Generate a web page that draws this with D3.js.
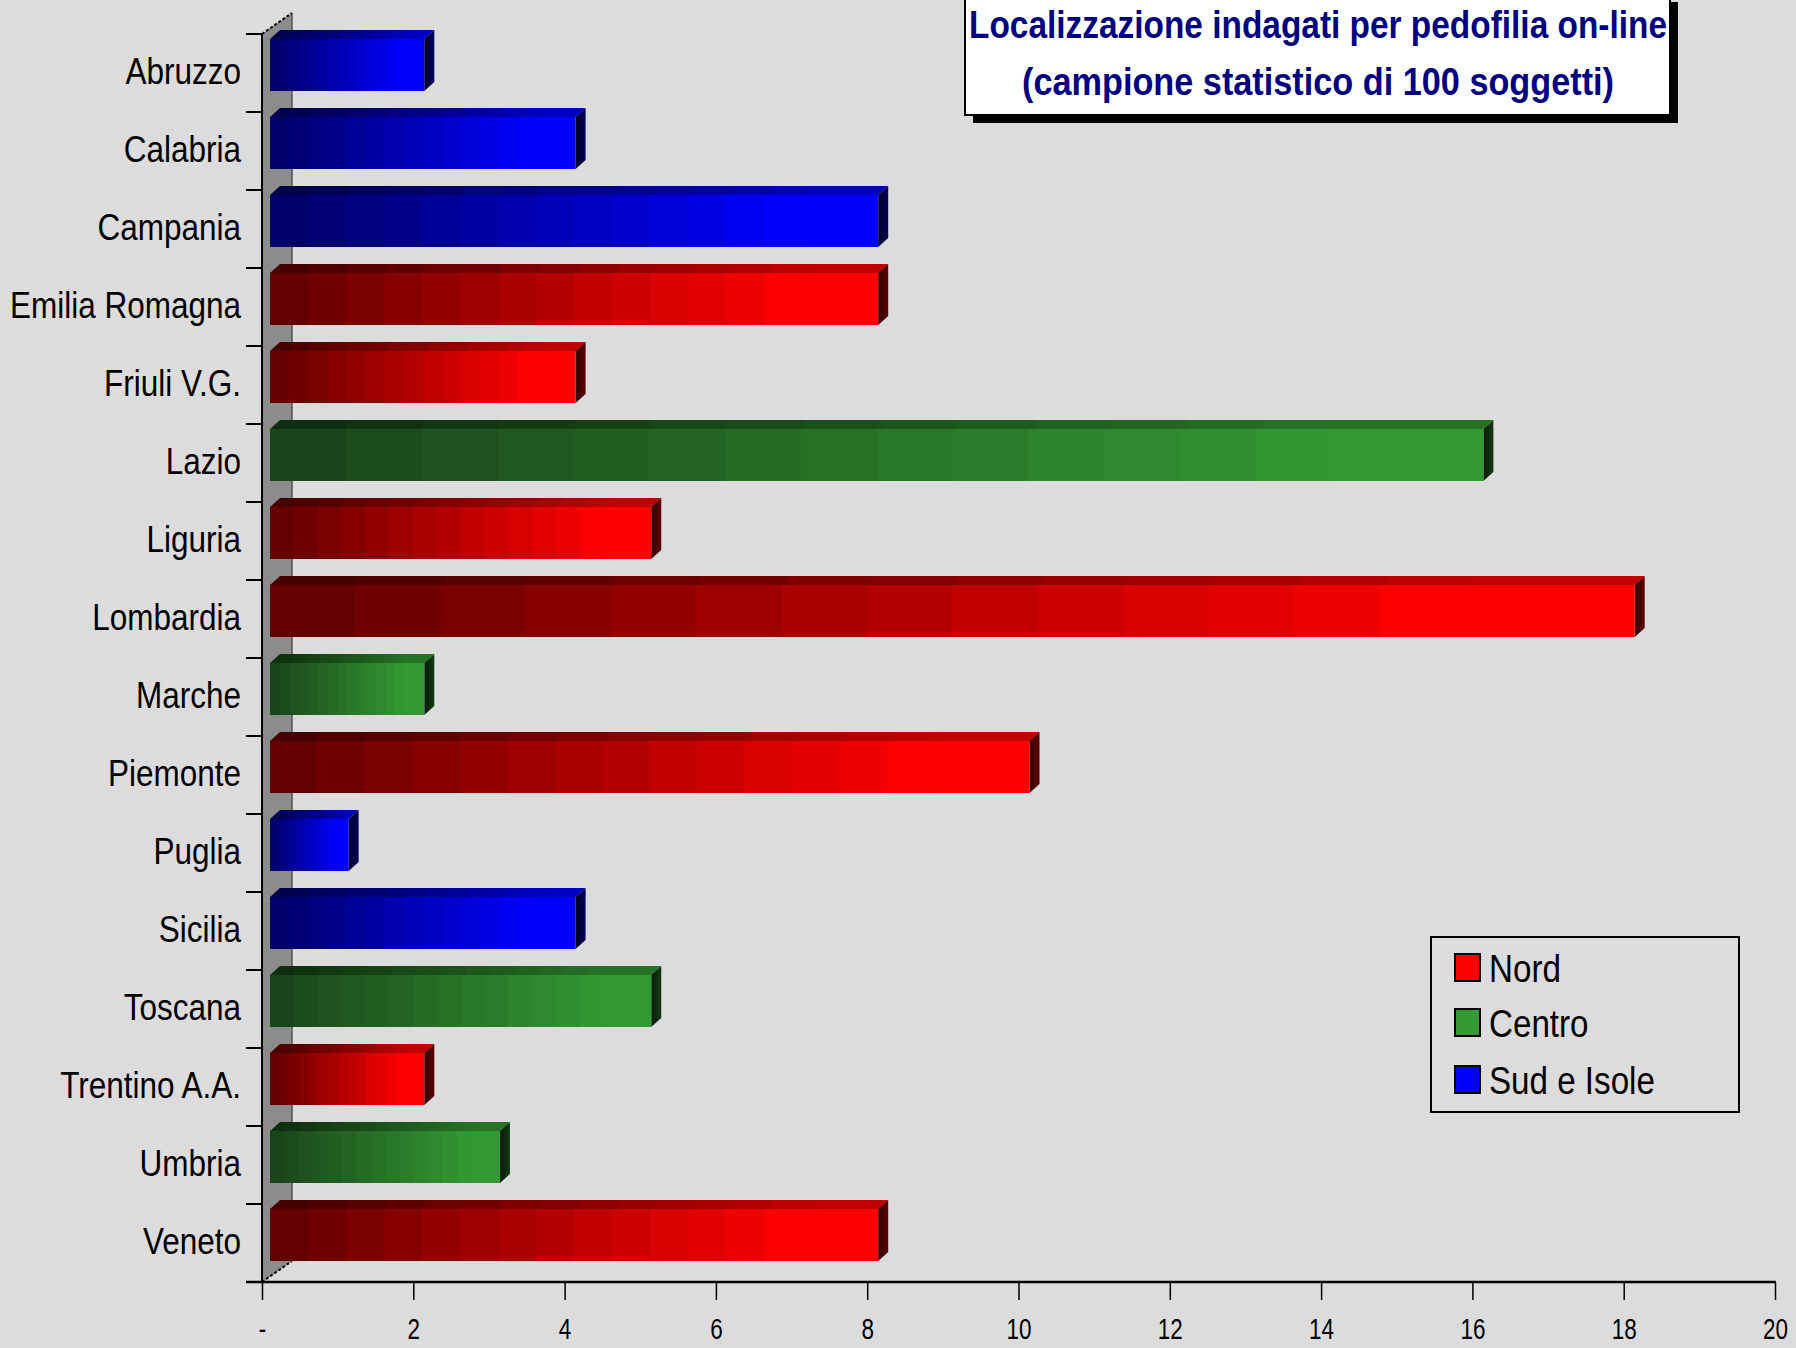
<!DOCTYPE html>
<html>
<head>
<meta charset="utf-8">
<script src="https://cdn.jsdelivr.net/npm/d3@7"></script>
<style>
  html, body { margin: 0; padding: 0; background: #dcdcdc; }
  svg { display: block; }
  text { font-family: 'Liberation Sans', Arial, sans-serif; }
</style>
</head>
<body>
<script>
// ---- data ----
const categories = ["Abruzzo","Calabria","Campania","Emilia Romagna","Friuli V.G.","Lazio","Liguria","Lombardia","Marche","Piemonte","Puglia","Sicilia","Toscana","Trentino A.A.","Umbria","Veneto"];
const values = [2,4,8,8,4,16,5,18,2,10,1,4,5,2,3,8];
const regions = ["Sud e Isole","Sud e Isole","Sud e Isole","Nord","Nord","Centro","Nord","Nord","Centro","Nord","Sud e Isole","Sud e Isole","Centro","Nord","Centro","Nord"];
const legendItems = ["Nord","Centro","Sud e Isole"];
const xTicks = [0,2,4,6,8,10,12,14,16,18,20];
const titleLines = ["Localizzazione indagati per pedofilia on-line","(campione statistico di 100 soggetti)"];

// colour ramps per region
const palette = {
  "Nord":        {legend:"#ff0000", f0:"#640000", f1:"#ff0000", t0:"#450000", t1:"#c00000", s0:"#300000", s1:"#600000"},
  "Centro":      {legend:"#339933", f0:"#1a451a", f1:"#339933", t0:"#0f2d0f", t1:"#267326", s0:"#081a08", s1:"#143a14"},
  "Sud e Isole": {legend:"#0000ff", f0:"#00006a", f1:"#0000ff", t0:"#00004a", t1:"#0000c0", s0:"#000020", s1:"#000060"}
};

const W = 1796, H = 1348;
const svg = d3.select("body").append("svg").attr("width", W).attr("height", H);
svg.append("rect").attr("width", W).attr("height", H).attr("fill", "#dcdcdc");

const x = d3.scaleLinear().domain([0, 20]).range([262, 1775]);
const y = d3.scaleBand().domain(categories).range([34, 1282]).padding(0);

// helper: horizontal squeeze factor so that a sample string has the target width
function squeeze(sample, size, weight, target) {
  const t = svg.append("text").attr("font-size", size).attr("font-weight", weight).text(sample);
  const w = t.node().getComputedTextLength();
  t.remove();
  return target / w;
}

// stepped gradients
const defs = svg.append("defs");
function stepped(id, c0, c1, n) {
  const g = defs.append("linearGradient").attr("id", id).attr("x1", 0).attr("x2", 1).attr("y1", 0).attr("y2", 0);
  const interp = d3.interpolateRgb(c0, c1);
  for (let i = 0; i < n; i++) {
    const t = Math.min(1, i / (n - 1) * 1.12);
    const col = interp(t);
    g.append("stop").attr("offset", i / n).attr("stop-color", col);
    g.append("stop").attr("offset", (i + 1) / n).attr("stop-color", col);
  }
}
Object.entries(palette).forEach(([k, p], i) => {
  stepped("front" + i, p.f0, p.f1, 16);
  stepped("top" + i, p.t0, p.t1, 16);
  const s = defs.append("linearGradient").attr("id", "side" + i).attr("x1", 0).attr("x2", 1);
  s.append("stop").attr("offset", 0).attr("stop-color", p.s0);
  s.append("stop").attr("offset", 1).attr("stop-color", p.s1);
});
const regIdx = r => Object.keys(palette).indexOf(r);

// back wall (3D left wall)
const wdx = 30, wdy = 21;
const y0 = y.range()[0], yB = y.range()[1];
svg.append("polygon")
  .attr("points", [[262, y0], [262 + wdx, y0 - wdy], [262 + wdx, yB - wdy], [262, yB]].map(p => p.join(",")).join(" "))
  .attr("fill", "#8c8c8c");
svg.append("line").attr("x1", 262 + wdx).attr("x2", 262 + wdx).attr("y1", y0 - wdy).attr("y2", yB - wdy)
  .attr("stroke", "#555").attr("stroke-width", 1.5);
svg.append("line").attr("x1", 262).attr("y1", y0).attr("x2", 262 + wdx).attr("y2", y0 - wdy)
  .attr("stroke", "#000").attr("stroke-width", 2).attr("stroke-dasharray", "3,2");
svg.append("line").attr("x1", 262).attr("y1", yB).attr("x2", 262 + wdx).attr("y2", yB - wdy)
  .attr("stroke", "#000").attr("stroke-width", 2).attr("stroke-dasharray", "3,2");

// category ticks and wall edge
svg.append("line").attr("x1", 262).attr("x2", 262).attr("y1", y0).attr("y2", yB)
  .attr("stroke", "#000").attr("stroke-width", 2);
const bounds = categories.map(c => y(c)).concat([yB]);
svg.selectAll("line.ytick").data(bounds).enter().append("line")
  .attr("class", "ytick").attr("x1", 246).attr("x2", 262).attr("y1", d => d).attr("y2", d => d)
  .attr("stroke", "#000").attr("stroke-width", 2);

// bars
const d = 10; // depth
const bars = svg.append("g");
categories.forEach((c, i) => {
  const r = regIdx(regions[i]);
  const bx0 = x(0) + 8, bx1 = x(values[i]) + 11;
  const by0 = y(c) + 5, bh = 52;
  const g = bars.append("g");
  g.append("polygon")
    .attr("points", [[bx0, by0], [bx0 + d, by0 - d + 1], [bx1 + d, by0 - d + 1], [bx1, by0]].map(p => p.join(",")).join(" "))
    .attr("fill", `url(#top${r})`);
  g.append("polygon")
    .attr("points", [[bx1, by0], [bx1 + d, by0 - d + 1], [bx1 + d, by0 + bh - d + 1], [bx1, by0 + bh]].map(p => p.join(",")).join(" "))
    .attr("fill", `url(#side${r})`);
  g.append("rect").attr("x", bx0).attr("y", by0).attr("width", bx1 - bx0).attr("height", bh)
    .attr("fill", `url(#front${r})`);
});

// category labels (condensed)
const catSize = 37;
const sx = squeeze("Emilia Romagna", catSize, "normal", 231);
svg.append("g").selectAll("text").data(categories).enter().append("text")
  .attr("transform", c => `translate(241,${y(c) + y.bandwidth() / 2 + 11}) scale(${sx},1)`)
  .attr("text-anchor", "end").attr("font-size", catSize).attr("fill", "#000")
  .text(c => c);

// x axis
svg.append("line").attr("x1", 246).attr("x2", 1776).attr("y1", yB).attr("y2", yB)
  .attr("stroke", "#000").attr("stroke-width", 2.5);
const xAxis = d3.axisBottom(x).tickValues(xTicks).tickSize(18).tickFormat(v => v === 0 ? "-" : v);
const ax = svg.append("g").attr("transform", `translate(0,${yB})`).call(xAxis);
ax.select(".domain").remove();
ax.selectAll(".tick line").attr("stroke", "#000").attr("stroke-width", 1.5);
const tickSx = squeeze("14", 29, "normal", 25);
ax.selectAll(".tick text")
  .attr("font-family", "'Liberation Sans', Arial, sans-serif")
  .attr("font-size", 29).attr("fill", "#000")
  .attr("y", 0).attr("dy", 0)
  .attr("transform", `translate(0,57) scale(${tickSx},1)`);

// title box
const tb = {x: 965, y: -6, w: 705, h: 121};
svg.append("rect").attr("x", tb.x + 8).attr("y", tb.y + 8).attr("width", tb.w).attr("height", tb.h).attr("fill", "#000");
svg.append("rect").attr("x", tb.x).attr("y", tb.y).attr("width", tb.w).attr("height", tb.h)
  .attr("fill", "#fff").attr("stroke", "#000").attr("stroke-width", 2);
const tLens = [698, 592];
const tBase = [38, 95];
svg.append("g").selectAll("text").data(titleLines).enter().append("text")
  .attr("x", (t, i) => 1318 - tLens[i] / 2).attr("y", (t, i) => tBase[i])
  .attr("textLength", (t, i) => tLens[i]).attr("lengthAdjust", "spacingAndGlyphs")
  .attr("font-size", 38).attr("font-weight", "bold").attr("fill", "#000080")
  .text(t => t);

// legend
const lg = svg.append("g");
lg.append("rect").attr("x", 1431).attr("y", 937).attr("width", 308).attr("height", 175)
  .attr("fill", "none").attr("stroke", "#000").attr("stroke-width", 2);
const lgBase = [982, 1037, 1094];
const lgSize = 39;
const lgSx = squeeze("Sud e Isole", lgSize, "normal", 166);
legendItems.forEach((k, i) => {
  lg.append("rect").attr("x", 1455).attr("y", lgBase[i] - 28).attr("width", 25).attr("height", 27)
    .attr("fill", palette[k].legend).attr("stroke", "#000").attr("stroke-width", 2);
  lg.append("text").attr("transform", `translate(1489,${lgBase[i]}) scale(${lgSx},1)`)
    .attr("font-size", lgSize).attr("fill", "#000").text(k);
});
</script>
</body>
</html>
